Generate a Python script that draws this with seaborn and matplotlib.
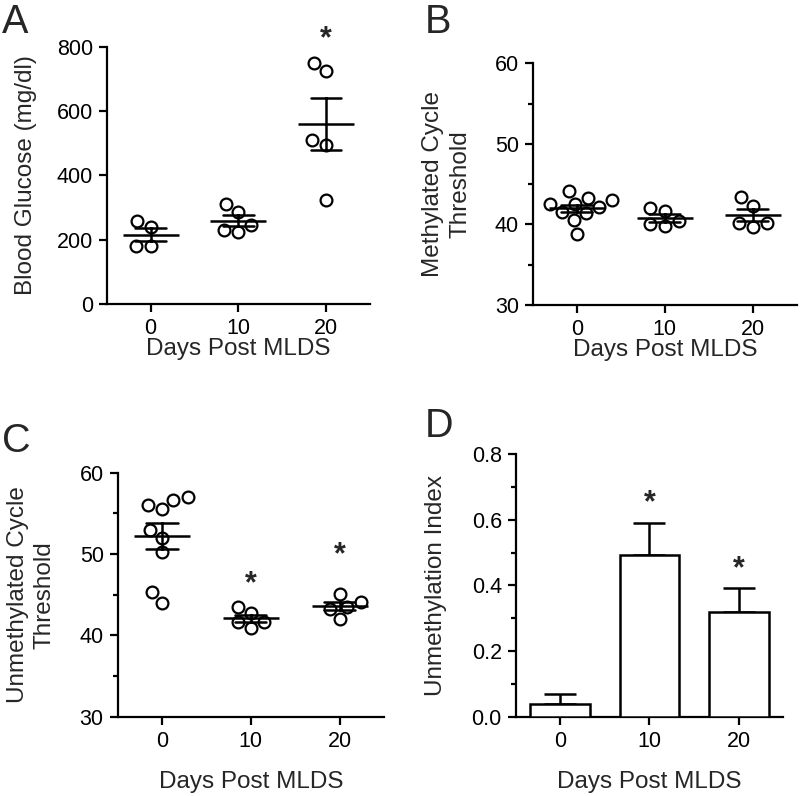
import numpy as np
import pandas as pd
import seaborn as sns
import matplotlib
matplotlib.use('Agg')
from matplotlib import pyplot as plt
from matplotlib.ticker import MultipleLocator, FormatStrFormatter

# ---- data ----
days = ['0', '10', '20']

# A: blood glucose (mg/dl)
glucose_d0 = [258, 240, 182, 182]
glucose_d10 = [311, 286, 245, 223, 229]
glucose_d20 = [724, 750, 510, 494, 322]

# B: methylated cycle threshold
meth_d0 = [44.1, 43.0, 43.3, 42.5, 42.5, 42.2, 41.6, 41.4, 40.5, 38.8]
meth_d10 = [42.0, 41.7, 40.4, 39.8, 40.1]
meth_d20 = [43.4, 42.3, 40.2, 39.7, 40.2]

# C: unmethylated cycle threshold
unmeth_d0 = [57.0, 56.6, 56.0, 55.5, 53.0, 52.0, 50.2, 45.3, 44.0]
unmeth_d10 = [43.5, 42.7, 41.7, 41.6, 40.9]
unmeth_d20 = [45.1, 44.1, 43.5, 43.3, 42.0]

# D: unmethylation index, mean and SEM
index_mean = [0.038, 0.492, 0.318]
index_sem = [0.031, 0.099, 0.075]

# significance marks (day, y position)
stars_a = [('20', 824)]
stars_c = [('10', 46.3), ('20', 49.9)]
stars_d = [('10', 0.65), ('20', 0.45)]


def long_form(groups):
    rows = []
    for d, vals in zip(days, groups):
        for v in vals:
            rows.append({'day': d, 'value': v})
    return pd.DataFrame(rows)


sns.set_style('ticks')
plt.rcParams['font.family'] = ['Liberation Sans', 'DejaVu Sans']
plt.rcParams['axes.linewidth'] = 1.6
plt.rcParams['xtick.major.width'] = 1.6
plt.rcParams['ytick.major.width'] = 1.6
plt.rcParams['ytick.minor.width'] = 1.6
plt.rcParams['xtick.major.size'] = 6
plt.rcParams['ytick.major.size'] = 6
plt.rcParams['ytick.minor.size'] = 3.5
plt.rcParams['xtick.labelsize'] = 15.5
plt.rcParams['ytick.labelsize'] = 15.5
plt.rcParams['axes.labelsize'] = 17.5
plt.rcParams['xtick.color'] = 'black'
plt.rcParams['ytick.color'] = 'black'
plt.rcParams['axes.edgecolor'] = 'black'

fig = plt.figure(figsize=(8.0, 7.96), dpi=100)
ax_a = fig.add_axes([0.1334, 0.618, 0.329, 0.3233])
ax_b = fig.add_axes([0.666, 0.6168, 0.330, 0.3037])
ax_c = fig.add_axes([0.147, 0.0996, 0.333, 0.3066])
ax_d = fig.add_axes([0.6446, 0.0996, 0.3345, 0.330])


def scatter_panel(ax, groups):
    df = long_form(groups)
    sns.swarmplot(data=df, x='day', y='value', order=days, ax=ax,
                  color='white', edgecolor='black', linewidth=1.6, size=8.5,
                  zorder=2)
    sns.pointplot(data=df, x='day', y='value', order=days, ax=ax,
                  errorbar='se', color='black', marker='_', markersize=41,
                  markeredgewidth=1.8, linestyle='none', capsize=0.35,
                  err_kws={'linewidth': 1.8}, zorder=3)


scatter_panel(ax_a, [glucose_d0, glucose_d10, glucose_d20])
ax_a.set_ylim(0, 800)
ax_a.yaxis.set_major_locator(MultipleLocator(200))
ax_a.set_ylabel('Blood Glucose (mg/dl)', labelpad=14)

scatter_panel(ax_b, [meth_d0, meth_d10, meth_d20])
ax_b.set_ylim(30, 60)
ax_b.yaxis.set_major_locator(MultipleLocator(10))
ax_b.yaxis.set_minor_locator(MultipleLocator(5))
ax_b.set_ylabel('Methylated Cycle\nThreshold', labelpad=17, linespacing=1.3,
                multialignment='center')

scatter_panel(ax_c, [unmeth_d0, unmeth_d10, unmeth_d20])
ax_c.set_ylim(30, 60)
ax_c.yaxis.set_major_locator(MultipleLocator(10))
ax_c.yaxis.set_minor_locator(MultipleLocator(5))
ax_c.set_ylabel('Unmethylated Cycle\nThreshold', labelpad=17, linespacing=1.3,
                multialignment='center')

sns.barplot(x=days, y=index_mean, order=days, ax=ax_d, color='white',
            edgecolor='black', linewidth=1.8, width=0.67, errorbar=None,
            zorder=3)
ax_d.errorbar(np.arange(len(days)), index_mean,
              yerr=[np.zeros(len(days)), index_sem], fmt='none',
              ecolor='black', elinewidth=1.8, capsize=11.5, capthick=1.8,
              zorder=2)
ax_d.set_ylim(0, 0.8)
ax_d.yaxis.set_major_locator(MultipleLocator(0.2))
ax_d.yaxis.set_minor_locator(MultipleLocator(0.1))
ax_d.yaxis.set_major_formatter(FormatStrFormatter('%.1f'))
ax_d.set_ylabel('Unmethylation Index', labelpad=18)

for ax, stars, pad in [(ax_a, stars_a, -1), (ax_b, [], -1),
                       (ax_c, stars_c, 14), (ax_d, stars_d, 14)]:
    ax.set_xlim(-0.5, 2.5)
    ax.set_xlabel('Days Post MLDS', labelpad=pad)
    sns.despine(ax=ax)
    ax.tick_params(axis='both', which='both', direction='out', pad=4)
    for d, y in stars:
        ax.text(days.index(d), y, '*', ha='center', va='center',
                fontsize=22, fontweight='bold', clip_on=False)

for letter, x, y in [('A', 0.003, 0.9585), ('B', 0.531, 0.9585),
                     ('C', 0.003, 0.4322), ('D', 0.531, 0.451)]:
    fig.text(x, y, letter, fontsize=28.5, va='baseline', ha='left')

plt.savefig('out.png', dpi=100)
